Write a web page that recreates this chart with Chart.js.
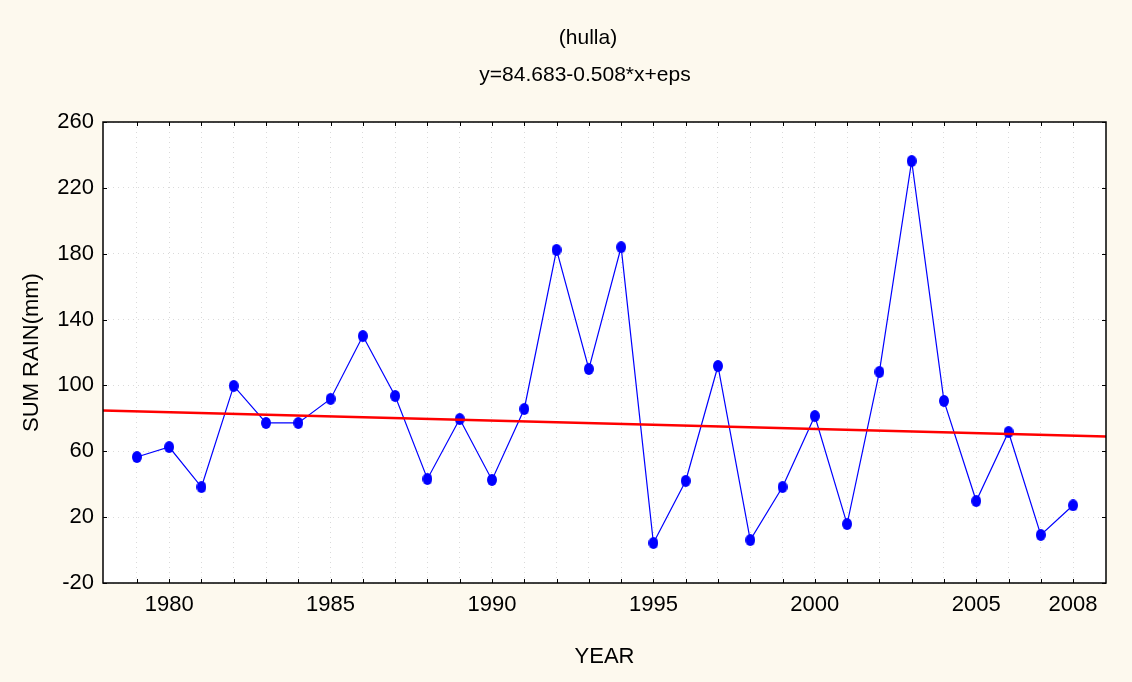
<!DOCTYPE html>
<html>
<head>
<meta charset="utf-8">
<script src="https://cdn.jsdelivr.net/npm/chart.js@4/dist/chart.umd.min.js"></script>
<style>
  html, body { margin: 0; padding: 0; background: #fdf9ee; }
  #wrap { width: 1132px; height: 682px; }
</style>
</head>
<body>
<div id="wrap"><canvas id="c" width="1132" height="682"></canvas></div>
<script>
const YEARS = [1979, 1980, 1981, 1982, 1983, 1984, 1985, 1986, 1987, 1988,
  1989, 1990, 1991, 1992, 1993, 1994, 1995, 1996, 1997, 1998,
  1999, 2000, 2001, 2002, 2003, 2004, 2005, 2006, 2007, 2008];
const RAIN = [56.5, 62.6, 38.3, 99.7, 77.2, 77.2, 91.8, 130, 93.6, 43.2,
  79.6, 42.6, 85.7, 182.3, 110, 184, 4.3, 42, 111.8, 6.1,
  38.3, 81.4, 15.8, 108.2, 236.3, 90.6, 29.8, 71.7, 9.2, 27.2];
const X_LABELS = [1980, 1985, 1990, 1995, 2000, 2005, 2008];
const Y_TICKS = [-20, 20, 60, 100, 140, 180, 220, 260];
const TITLE = "(hulla)";
const SUBTITLE = "y=84.683-0.508*x+eps";
// fitted line from the equation in the subtitle, x counted from 1978
const FIT_A = 84.683, FIT_B = -0.508, FIT_X0 = 1978;
const X_MIN = 1977.95, X_MAX = 2009.02;
const FIT_X = [X_MIN, X_MAX];

const FONT = "'Liberation Sans Narrow', 'Arial Narrow', 'Liberation Sans', Arial, sans-serif";

// slightly tall ellipse markers like the original
function ellipseMarker(w, h, color) {
  const cv = document.createElement("canvas");
  cv.width = w; cv.height = h;
  const g = cv.getContext("2d");
  g.fillStyle = color;
  g.beginPath();
  g.ellipse(w / 2, h / 2, w / 2, h / 2, 0, 0, Math.PI * 2);
  g.fill();
  return cv;
}

const frame = {
  id: "frame",
  beforeDraw(chart) {
    const { ctx, chartArea: a } = chart;
    ctx.save();
    ctx.fillStyle = "#fdf9ee";
    ctx.fillRect(0, 0, chart.width, chart.height);
    ctx.fillStyle = "#ffffff";
    ctx.fillRect(a.left, a.top, a.right - a.left, a.bottom - a.top);
    ctx.restore();
  },
  afterDraw(chart) {
    const { ctx, chartArea: a, scales } = chart;
    ctx.save();
    ctx.strokeStyle = "#000";
    ctx.lineWidth = 1.5;
    ctx.strokeRect(a.left, a.top, a.right - a.left, a.bottom - a.top);
    ctx.lineWidth = 1;
    ctx.beginPath();
    scales.x.ticks.forEach((t) => {
      const px = Math.round(scales.x.getPixelForValue(t.value)) + 0.5;
      ctx.moveTo(px, a.bottom); ctx.lineTo(px, a.bottom - 4);
      ctx.moveTo(px, a.top); ctx.lineTo(px, a.top + 4);
    });
    scales.y.ticks.forEach((t) => {
      const py = Math.round(scales.y.getPixelForValue(t.value)) + 0.5;
      ctx.moveTo(a.left, py); ctx.lineTo(a.left + 4, py);
      ctx.moveTo(a.right, py); ctx.lineTo(a.right - 4, py);
    });
    ctx.stroke();

    ctx.fillStyle = "#000";
    ctx.textAlign = "center";
    ctx.textBaseline = "middle";
    ctx.font = "21px " + FONT;
    ctx.fillText(TITLE, 588, 38);
    ctx.fillText(SUBTITLE, 585, 75);
    ctx.restore();
  },
};

new Chart(document.getElementById("c"), {
  type: "line",
  data: {
    datasets: [
      {
        label: "SUM RAIN",
        data: YEARS.map((y, i) => ({ x: y, y: RAIN[i] })),
        borderColor: "#0000ff",
        backgroundColor: "#0000ff",
        borderWidth: 1.2,
        pointStyle: ellipseMarker(10, 12, "#0000ff"),
        tension: 0,
        order: 2,
      },
      {
        label: "fit",
        data: FIT_X.map((x) => ({ x: x, y: FIT_A + FIT_B * (x - FIT_X0) })),
        borderColor: "#ff0000",
        borderWidth: 2.5,
        pointRadius: 0,
        tension: 0,
        order: 1,
      },
    ],
  },
  options: {
    responsive: false,
    animation: false,
    layout: { padding: { top: 122, right: 26, left: 0, bottom: 0 } },
    plugins: { legend: { display: false }, tooltip: { enabled: false } },
    scales: {
      x: {
        type: "linear",
        min: X_MIN,
        max: X_MAX,
        afterBuildTicks: (s) => { s.ticks = YEARS.map((v) => ({ value: v })); },
        afterFit: (s) => { s.height = 99; },
        ticks: {
          autoSkip: false,
          maxRotation: 0,
          color: "#000",
          font: { family: FONT, size: 22 },
          padding: 9,
          callback: (v) => (X_LABELS.includes(v) ? String(v) : ""),
        },
        grid: { color: "#dadada", drawTicks: false, lineWidth: 1 },
        border: { display: false, dash: [1, 4] },
        title: {
          display: true,
          text: "YEAR",
          color: "#000",
          font: { family: FONT, size: 22 },
          padding: { top: 4, bottom: 12 },
        },
      },
      y: {
        min: -20,
        max: 260,
        afterBuildTicks: (s) => { s.ticks = Y_TICKS.map((v) => ({ value: v })); },
        afterFit: (s) => { s.width = 103; },
        ticks: {
          color: "#000",
          font: { family: FONT, size: 22 },
          padding: 9,
        },
        grid: { color: "#dadada", drawTicks: false, lineWidth: 1 },
        border: { display: false, dash: [1, 4] },
        title: {
          display: true,
          text: "SUM RAIN(mm)",
          color: "#000",
          font: { family: FONT, size: 22 },
          padding: { top: 19, bottom: 0 },
        },
      },
    },
  },
  plugins: [frame],
});
</script>
</body>
</html>
